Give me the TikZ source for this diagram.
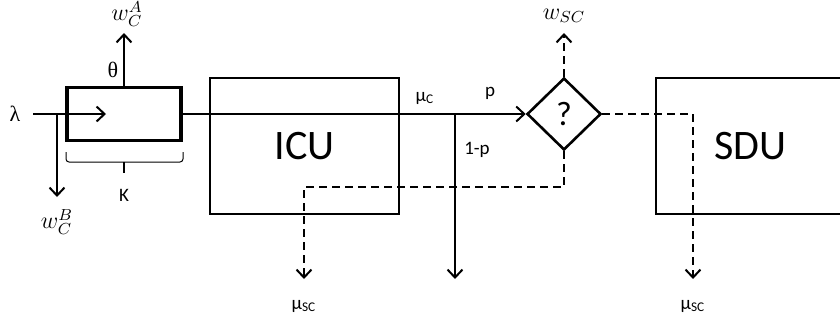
\documentclass[tikz,border=0pt]{standalone}
\usepackage{fontspec}
\usepackage{amsmath}
\setmainfont{Carlito}
\newfontfamily\greekserif{Liberation Serif}
\usetikzlibrary{shapes.geometric, arrows.meta, positioning, calc, decorations.pathreplacing}

\begin{document}
\begin{tikzpicture}[
    x=0.5pt, y=-0.5pt,
    queue/.style={rectangle, draw, line width=1.6pt, minimum width=57pt, minimum height=26.5pt, inner sep=0pt},
    unit/.style={rectangle, draw, line width=1.3pt, minimum width=94.5pt, minimum height=68pt, inner sep=0pt, font=\fontsize{21}{24}\selectfont},
    decision/.style={diamond, draw, line width=1.3pt, minimum width=37pt, minimum height=36pt, inner sep=0pt, font=\fontsize{17}{20}\selectfont},
    lbl/.style={font=\fontsize{9.5}{11}\selectfont, inner sep=1pt},
    mlbl/.style={font=\fontsize{12}{14}\selectfont, inner sep=1pt},
    greek/.style={font=\greekserif\fontsize{11}{12}\selectfont, inner sep=1pt},
    arrow/.style={-{Straight Barb[length=4pt, width=7.5pt, line width=1pt]}, line width=1.1pt},
    dasharrow/.style={arrow, dash pattern=on 4pt off 2.5pt},
]
\useasboundingbox (0,0) rectangle (840,322);

% boxes
\node[queue] (queue) at (124,114) {};
\node[unit] (icu) at (304.5,146) {ICU};
\node[unit] (sdu) at (750.5,146) {SDU};
\node[decision] (dec) at (564,114) {?};

% arrivals
\node[greek] (lambda) at (15,114) {λ};
\coordinate (lin) at (33,114);
\coordinate (qin) at (106,114);
\coordinate (split) at (57,114);
\coordinate (outB) at (57,197);
\draw[arrow] (lin) -- (qin);
\draw[arrow] (split) -- (outB);
\node[mlbl] (wcb) at (57,222) {$w_C^B$};

\coordinate (outA) at (124,33);
\draw[arrow] (queue.north) -- (outA);
\node[mlbl] (wca) at (127,14) {$w_C^A$};
\node[greek] (theta) at (113,70) {θ};

% capacity
\coordinate (braL) at (66,152);
\coordinate (braR) at (183,152);
\coordinate (braM) at (124,162);
\coordinate (braT) at (124,173);
\draw[line width=0.5pt, rounded corners=1.5pt] (braL) -- ++(0,10) -| (braR);
\draw[line width=1pt] (braM) -- (braT);
\node[lbl] (cap) at (124,195) {K};

% ICU outflow
\draw[arrow] (queue.east) -- (dec.west);
\coordinate (psplit) at (455,114);
\coordinate (outD) at (455,279);
\draw[arrow] (psplit) -- (outD);
\node[lbl] (muc) at (425,98) {μ\textsubscript{C}};
\node[lbl] (p) at (490,93) {p};
\node[lbl] (q) at (477,150) {1-p};

% decision outcomes
\coordinate (outE) at (564,33);
\draw[dasharrow] (dec.north) -- (outE);
\node[mlbl] (wsc) at (564,16) {$w_{SC}$};
\coordinate (turn) at (304,187);
\coordinate (outF) at (304,279);
\draw[dasharrow] (dec.south) |- (turn) -- (outF);
\coordinate (outG) at (693,279);
\draw[dasharrow] (dec.east) -| (outG);
\node[lbl] (musc1) at (304,306) {μ\textsubscript{SC}};
\node[lbl] (musc2) at (693,306) {μ\textsubscript{SC}};
\end{tikzpicture}
\end{document}
